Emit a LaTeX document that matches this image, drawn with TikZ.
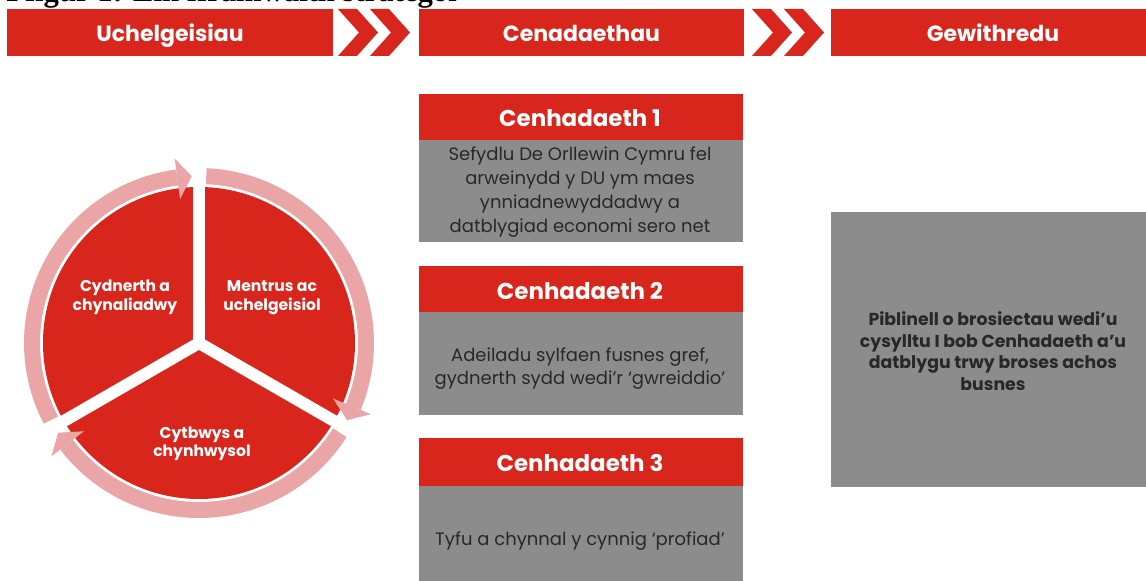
\documentclass[tikz,border=0pt]{standalone}
\usepackage{fontspec}
\setmainfont{Poppins}
\newfontfamily\titlefont{Liberation Serif}
\definecolor{cred}{RGB}{217,38,28}
\definecolor{cgray}{RGB}{140,140,140}
\definecolor{cpink}{RGB}{234,166,166}
\definecolor{ctext}{RGB}{40,40,40}
\tikzset{
  hdr/.style={anchor=base, inner sep=0, text=white, font=\bfseries\fontsize{16.5}{16.5}\selectfont},
  mhdr/.style={anchor=base, inner sep=0, text=white, font=\bfseries\fontsize{17.2}{17.2}\selectfont},
  body/.style={anchor=base, inner sep=0, text=ctext, font=\fontsize{13.5}{13.5}\selectfont},
  rbody/.style={anchor=base, inner sep=0, text=ctext, font=\bfseries\fontsize{13}{13}\selectfont},
  seg/.style={anchor=base, inner sep=0, text=white, font=\bfseries\fontsize{11.7}{11.7}\selectfont},
  ring/.style={cpink, line width=12pt},
  gapline/.style={white, line width=9pt},
}
\newcommand{\chev}[1]{\fill[cred] (#1,-9) -- ++(19,0) -- ++(21,-23.5) -- ++(-21,-23.5) -- ++(-19,0) -- ++(21,23.5) -- cycle;}
\newcommand{\ahead}[1]{\fill[cpink] ($(C)+(#1+5:145)$) -- ($(C)+(#1+5:186)$) -- ($(C)+(#1:167)$) -- cycle;}
\usetikzlibrary{calc}
\begin{document}
\begin{tikzpicture}[x=0.75pt,y=0.75pt]
\useasboundingbox (0,0) rectangle (1146,-581);
\clip (0,0) rectangle (1146,-581);
\fill[white] (0,0) rectangle (1146,-581);
% title (cut off at top)
\node[anchor=base west, inner sep=0, font=\titlefont\bfseries\fontsize{23}{23}\selectfont] (title) at (6,-2) {Ffigur 1: Ein fframwaith strategol};
% header bars
\fill[cred] (7,-9) rectangle (333,-56);
\fill[cred] (419,-9) rectangle (744,-56);
\fill[cred] (831,-9) rectangle (1146,-56);
\chev{338}\chev{370}\chev{752}\chev{784}
\node[hdr] (h1) at (170,-41.5) {Uchelgeisiau};
\node[hdr] (h2) at (581.5,-41.5) {Cenadaethau};
\node[hdr] (h3) at (993,-41.5) {Gewithredu};
% mission boxes
\fill[cred] (419,-94) rectangle (743,-140);
\fill[cgray] (419,-140) rectangle (743,-242);
\fill[cred] (419,-266) rectangle (743,-312);
\fill[cgray] (419,-312) rectangle (743,-415);
\fill[cred] (419,-438) rectangle (743,-486);
\fill[cgray] (419,-486) rectangle (743,-581);
\node[mhdr] (m1) at (580,-126.5) {Cenhadaeth 1};
\node[mhdr] (m2) at (580,-299) {Cenhadaeth 2};
\node[mhdr] (m3) at (580,-471.5) {Cenhadaeth 3};
\node[body] (b1a) at (580,-161) {Sefydlu De Orllewin Cymru fel};
\node[body] (b1b) at (580,-185) {arweinydd y DU ym maes};
\node[body] (b1c) at (580,-209) {ynniadnewyddadwy a};
\node[body] (b1d) at (580,-233) {datblygiad economi sero net};
\node[body] (b2a) at (580,-361) {Adeiladu sylfaen fusnes gref,};
\node[body] (b2b) at (580,-384) {gydnerth sydd wedi’r ‘gwreiddio’};
\node[body] (b3a) at (580,-545) {Tyfu a chynnal y cynnig ‘profiad’};
% right box
\fill[cgray] (831,-212) rectangle (1146,-487);
\node[rbody] (r1) at (993,-325) {Piblinell o brosiectau wedi’u};
\node[rbody] (r2) at (993,-347) {cysylltu I bob Cenhadaeth a’u};
\node[rbody] (r3) at (993,-368.5) {datblygu trwy broses achos};
\node[rbody] (r4) at (993,-390) {busnes};
% cycle
\coordinate (C) at (199,-343);
\fill[cred] (C) circle (156);
\draw[ring] ($(C)+(87.5:167)$) arc (87.5:-22.5:167);
\draw[ring] ($(C)+(-32.5:167)$) arc (-32.5:-142.5:167);
\draw[ring] ($(C)+(207.5:167)$) arc (207.5:97.5:167);
\ahead{-27.5}\ahead{-147.5}\ahead{92.5}
\draw[gapline] (C) -- ++(90:185);
\draw[gapline] (C) -- ++(-30:185);
\draw[gapline] (C) -- ++(210:185);
\node[seg] (s1a) at (125,-291.5) {Cydnerth a};
\node[seg] (s1b) at (125,-310) {chynaliadwy};
\node[seg] (s2a) at (272,-291.5) {Mentrus ac};
\node[seg] (s2b) at (272,-310) {uchelgeisiol};
\node[seg] (s3a) at (202,-438) {Cytbwys a};
\node[seg] (s3b) at (202,-456.5) {chynhwysol};
\end{tikzpicture}
\end{document}
